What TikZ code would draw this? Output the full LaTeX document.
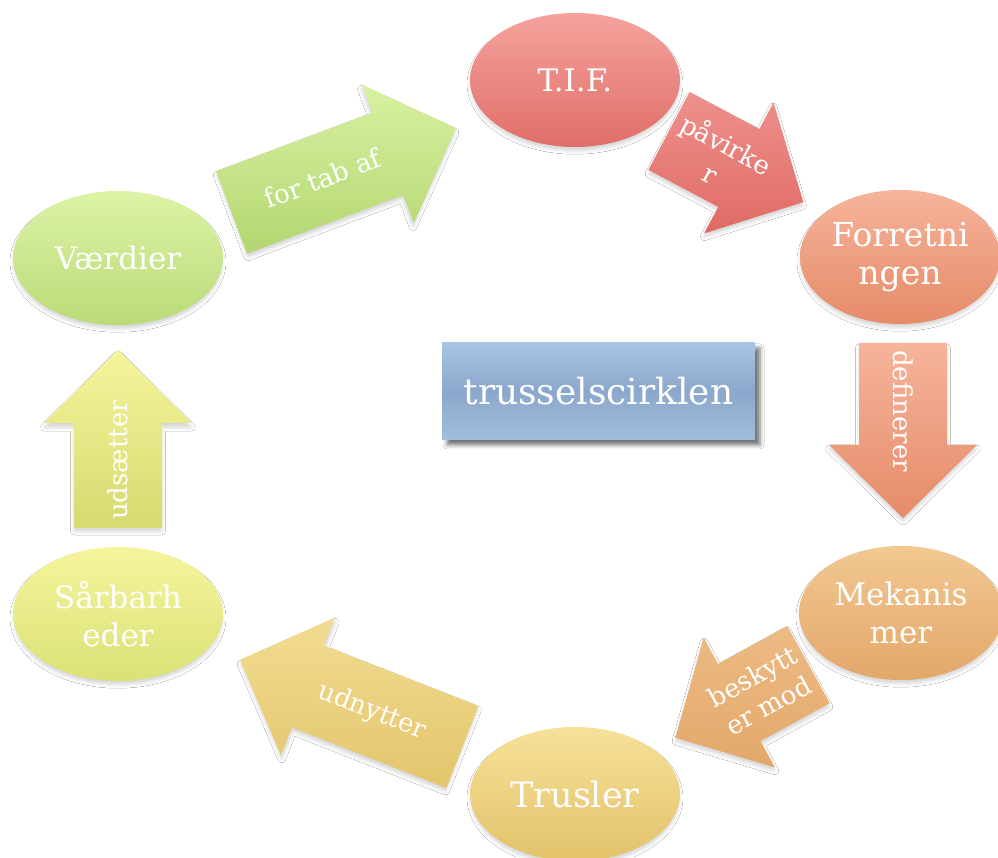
\documentclass[tikz,border=0pt]{standalone}
\usepackage{fontspec}
\setmainfont{DejaVu Serif}
\usetikzlibrary{shapes.geometric,shadows.blur}
\definecolor{tifTop}{HTML}{F5A39D}\definecolor{tifBot}{HTML}{E06E68}
\definecolor{pavTop}{HTML}{EE918C}\definecolor{pavBot}{HTML}{E06A64}
\definecolor{forTop}{HTML}{F6B49A}\definecolor{forBot}{HTML}{E58A68}
\definecolor{defTop}{HTML}{F5B49B}\definecolor{defBot}{HTML}{E68B69}
\definecolor{mekTop}{HTML}{F2C892}\definecolor{mekBot}{HTML}{E3A76A}
\definecolor{besTop}{HTML}{EDBB85}\definecolor{besBot}{HTML}{E3A86A}
\definecolor{truTop}{HTML}{F6E199}\definecolor{truBot}{HTML}{E3C26A}
\definecolor{udnTop}{HTML}{F2DC92}\definecolor{udnBot}{HTML}{E3C56C}
\definecolor{saaTop}{HTML}{F6F49C}\definecolor{saaBot}{HTML}{DAE276}
\definecolor{udsTop}{HTML}{F6F49C}\definecolor{udsBot}{HTML}{D6DA70}
\definecolor{vaeTop}{HTML}{DDF3A6}\definecolor{vaeBot}{HTML}{BADB78}
\definecolor{ftaTop}{HTML}{D8F1A2}\definecolor{ftaBot}{HTML}{B3D670}
\definecolor{boxTop}{HTML}{A9C3E3}\definecolor{boxMid}{HTML}{8BA7CB}\definecolor{boxBot}{HTML}{A3BDDE}
\tikzset{
  softshadow/.style={blur shadow={shadow xshift=0pt, shadow yshift=-4pt, shadow blur radius=4pt, shadow opacity=18, shadow scale=0.99}},
  ell/.style={ellipse, minimum width=210, minimum height=134, inner sep=0pt,
    text=white, align=center, font=\fontsize{31}{38}\selectfont, softshadow},
  arrowshade/.style={softshadow},
  arrtext/.style={text=white, align=center, inner sep=0pt, font=\fontsize{26}{33}\selectfont},
}
\newcommand{\bigarrow}[8]{%
  \begin{scope}[shift={(#2,{857-#3})}, rotate=#4]
    \shade[arrowshade, top color=#6, bottom color=#7]
      (0,-44) -- ({#5-73},-44) -- ({#5-73},-74) -- (#5,0) -- ({#5-73},74) -- ({#5-73},44) -- (0,44) -- cycle;
    \coordinate (#1) at (#8,0);
  \end{scope}}
\begin{document}
\begin{tikzpicture}[x=1pt,y=1pt]
\useasboundingbox (0,0) rectangle (998,857);
\fill[white] (0,0) rectangle (998,857);

% ellipses
\node[ell, top color=tifTop, bottom color=tifBot] (tif) at (575,{857-80}) {T.I.F.};
\node[ell, top color=forTop, bottom color=forBot, minimum width=200, font=\fontsize{33}{38}\selectfont] (forr) at (900,{857-257}) {Forretni\\ngen};
\node[ell, top color=mekTop, bottom color=mekBot, minimum width=204] (mek) at (901,{857-613}) {Mekanis\\mer};
\node[ell, top color=truTop, bottom color=truBot, font=\fontsize{35}{40}\selectfont] (tru) at (575,{857-794}) {Trusler};
\node[ell, top color=saaTop, bottom color=saaBot] (saa) at (118,{857-614}) {Sårbarh\\eder};
\node[ell, top color=vaeTop, bottom color=vaeBot] (vae) at (118,{857-258}) {Værdier};

% arrows
\bigarrow{a1}{231.5}{212.5}{20.6}{240}{ftaTop}{ftaBot}{97}
\bigarrow{a2}{669}{131}{-27.9}{152}{pavTop}{pavBot}{57}
\bigarrow{a3}{903}{343}{-90}{175}{defTop}{defBot}{68}
\bigarrow{a4}{808.5}{664.5}{208.8}{152}{besTop}{besBot}{55}
\bigarrow{a5}{462.5}{747}{158.6}{239}{udnTop}{udnBot}{97}
\bigarrow{a6}{118}{528}{90}{178}{udsTop}{udsBot}{68}

\node[arrtext, rotate=20.6] (t1) at (a1) {for tab af};
\node[arrtext, rotate=-27.9] (t2) at (a2) {påvirke\\r};
\node[arrtext, rotate=-90] (t3) at (a3) {definerer};
\node[arrtext, rotate=28.8] (t4) at (a4) {beskytt\\er mod};
\node[arrtext, rotate=-21.4] (t5) at (a5) {udnytter};
\node[arrtext, rotate=90] (t6) at (a6) {udsætter};

% centre box
\node[minimum width=313, minimum height=97, inner sep=0pt,
  top color=boxTop, bottom color=boxBot, middle color=boxMid,
  text=white, font=\fontsize{36}{40}\selectfont,
  blur shadow={shadow xshift=5pt, shadow yshift=-5pt, shadow blur radius=4pt, shadow opacity=55}]
  (box) at (598.5,{857-391.5}) {trusselscirklen};
\end{tikzpicture}
\end{document}
